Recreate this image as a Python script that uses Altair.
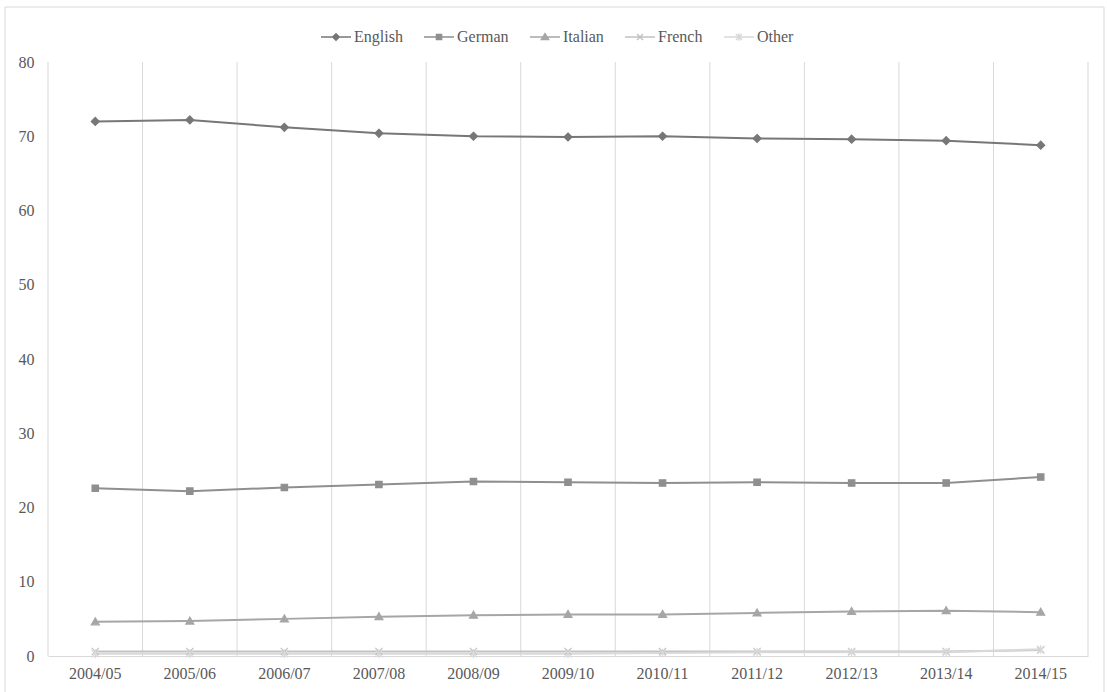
import altair as alt
import pandas as pd

years = ["2004/05", "2005/06", "2006/07", "2007/08", "2008/09", "2009/10",
         "2010/11", "2011/12", "2012/13", "2013/14", "2014/15"]
languages = ["English", "German", "Italian", "French", "Other"]
english = [72.0, 72.2, 71.2, 70.4, 70.0, 69.9, 70.0, 69.7, 69.6, 69.4, 68.8]
german = [22.6, 22.2, 22.7, 23.1, 23.5, 23.4, 23.3, 23.4, 23.3, 23.3, 24.1]
italian = [4.6, 4.7, 5.0, 5.3, 5.5, 5.6, 5.6, 5.8, 6.0, 6.1, 5.9]
french = [0.6, 0.6, 0.6, 0.6, 0.6, 0.6, 0.6, 0.6, 0.6, 0.6, 0.8]
other = [0.3, 0.3, 0.3, 0.3, 0.3, 0.3, 0.4, 0.5, 0.5, 0.5, 0.9]

series = {"English": english, "German": german, "Italian": italian,
          "French": french, "Other": other}
rows = []
for lang in languages:
    for yr, v in zip(years, series[lang]):
        rows.append({"Year": yr, "Language": lang, "Value": v})
df = pd.DataFrame(rows)
years_df = pd.DataFrame({"Year": years})
frame_df = pd.DataFrame({"part": ["frame"]})

colors = ["#777777", "#8f8f8f", "#a6a6a6", "#c2c2c2", "#d9d9d9"]
marker_paths = [
    "M0,-1L1,0L0,1L-1,0Z",
    "M-0.8,-0.8L0.8,-0.8L0.8,0.8L-0.8,0.8Z",
    "M0,-1L1,0.75L-1,0.75Z",
    "M-0.9,-0.9L0.9,0.9M-0.9,0.9L0.9,-0.9",
    "M-0.9,-0.9L0.9,0.9M-0.9,0.9L0.9,-0.9M0,-1.1L0,1.1",
]
legend_paths = [
    "M-1,0L1,0M0,-0.22L0.22,0L0,0.22L-0.22,0Z",
    "M-1,0L1,0M-0.17,-0.17L0.17,-0.17L0.17,0.17L-0.17,0.17Z",
    "M-1,0L1,0M0,-0.22L0.24,0.17L-0.24,0.17Z",
    "M-1,0L1,0M-0.2,-0.2L0.2,0.2M-0.2,0.2L0.2,-0.2",
    "M-1,0L1,0M-0.2,-0.2L0.2,0.2M-0.2,0.2L0.2,-0.2M0,-0.25L0,0.25",
]

FONT = "Liberation Serif"
TXT = "#595959"
GRID = "#d9d9d9"

x_axis = alt.Axis(title=None, labelAngle=0, ticks=False, tickSize=0, grid=False,
                  domainColor=GRID, labelFont=FONT, labelFontSize=16,
                  labelColor=TXT, labelPadding=9)
x_scale = alt.Scale(type="band", domain=years, paddingInner=0, paddingOuter=0)
x_enc = alt.X("Year:N", sort=years, scale=x_scale, axis=x_axis)
x_grid = alt.X("Year:N", sort=years, scale=x_scale, axis=x_axis, bandPosition=0)
y_enc = alt.Y("Value:Q", scale=alt.Scale(domain=[0, 80], nice=False),
              axis=alt.Axis(title=None, values=list(range(0, 81, 10)), grid=False,
                            domain=False, ticks=False, tickSize=0, labelPadding=14,
                            labelFont=FONT, labelFontSize=16, labelColor=TXT))

color_scale = alt.Scale(domain=languages, range=colors)

grid = alt.Chart(years_df).mark_rule(color=GRID, strokeWidth=1).encode(x=x_grid)
right_edge = alt.Chart(frame_df).mark_rule(color=GRID, strokeWidth=1).encode(
    x=alt.value(1040), y=alt.value(0), y2=alt.value(594))
outer = alt.Chart(frame_df).mark_rect(fillOpacity=0, stroke=GRID, strokeWidth=1).encode(
    x=alt.value(-43), x2=alt.value(1056), y=alt.value(-55), y2=alt.value(640))

lines = alt.Chart(df).mark_line(strokeWidth=2).encode(
    x=x_enc, y=y_enc,
    color=alt.Color("Language:N", scale=color_scale, legend=None),
    order=alt.Order("Year:N"))

points = alt.Chart(df).mark_point(filled=True, opacity=1, size=64, strokeWidth=1.2).encode(
    x=x_enc, y=y_enc,
    shape=alt.Shape("Language:N", scale=alt.Scale(domain=languages, range=marker_paths),
                    legend=None),
    color=alt.Color("Language:N", scale=color_scale, legend=None),
    stroke=alt.Stroke("Language:N", scale=color_scale, legend=None))

leg = alt.Legend(orient="none", legendX=272, legendY=-41, direction="horizontal",
                 columns=5, title=None, symbolSize=900, symbolStrokeWidth=1.5,
                 labelFont=FONT, labelFontSize=16, labelColor=TXT, labelOffset=2,
                 columnPadding=18, padding=0, symbolOpacity=1)

legend_layer = alt.Chart(df).transform_filter("false").mark_point(
    filled=True, opacity=1, strokeWidth=1.5).encode(
    x=x_enc, y=y_enc,
    shape=alt.Shape("Language:N", scale=alt.Scale(domain=languages, range=legend_paths),
                    legend=leg),
    color=alt.Color("Language:N", scale=color_scale, legend=leg),
    stroke=alt.Stroke("Language:N", scale=color_scale, legend=leg))

chart = alt.layer(outer, grid, right_edge, lines, points, legend_layer).resolve_scale(
    color="independent", shape="independent", stroke="independent"
).properties(
    width=1040, height=594,
    padding={"left": 48, "top": 62, "right": 19, "bottom": 36},
    autosize=alt.AutoSizeParams(type="none"),
    background="white",
).configure_view(stroke=None)

chart.save("out.html", embed_options={"renderer": "svg", "actions": False})
